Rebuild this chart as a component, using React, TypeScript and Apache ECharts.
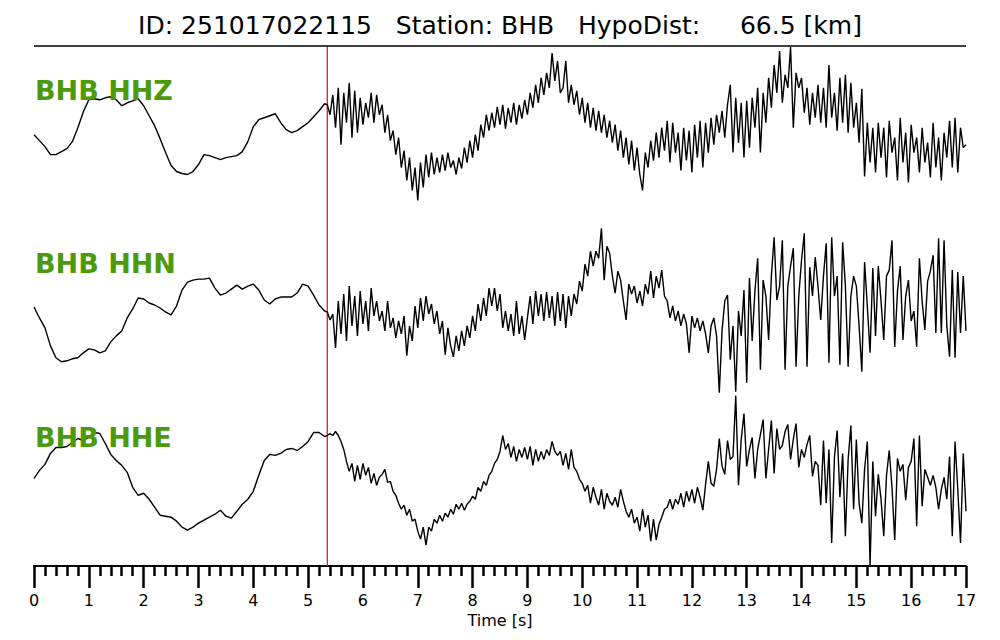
import React, { useEffect, useRef } from "react";
import * as echarts from "echarts";

const TITLE = "ID: 251017022115   Station: BHB   HypoDist:     66.5 [km]";
const CHANNELS = ["BHB HHZ", "BHB HHN", "BHB HHE"];
const X_AXIS_NAME = "Time [s]";
const X_MIN = 0;
const X_MAX = 17;
const P_PICK = 5.35;

// sampling of the hand-read traces
const PRE_DT = 0.1; // pre-event part, t = 0 .. 5.3
const POST_T0 = 5.35; // post-event part start
const POST_DT = 0.05; // post-event part, t = 5.35 .. 17.0

// normalised amplitudes (band half-height = 87)
const HHZ_PRE = [-2, -8, -14, -22, -22, -19, -16, -9, 5, 21, 33, 34, 33, 35, 36, 33, 27, 30, 32, 34, 27, 17, 7, -6, -20, -33, -39, -41, -42, -39, -32, -22, -23, -25, -27, -25, -24, -23, -19, -9, 6, 13, 15, 17, 19, 10, 3, 0, 2, 6, 10, 16, 22, 29];
const HHZ_POST = [
  28, 18, 38, 5, 45, -12, 40, 10, 50, -5, 42, 0, 35, 8, 30, 15, 40, 10, 38, 18,
  28, 0, 18, -8, 2, -22, -5, -35, -18, -48, -25, -58, -35, -68, -30, -55, -22, -45, -20, -42,
  -25, -40, -22, -38, -20, -35, -28, -42, -25, -36, -15, -30, -8, -25, -2, -18, 8, -5, 18, 2,
  20, 5, 26, 8, 28, 4, 25, 10, 30, 8, 28, 14, 33, 18, 40, 25, 48, 30, 55, 38,
  60, 45, 80, 52, 72, 40, 45, 72, 30, 48, 28, 42, 18, 35, 10, 30, 5, 25, 2, 22,
  0, 18, -5, 12, -10, 8, -18, 2, -25, -5, -32, -8, -38, -15, -42, -58, -20, -35, -8, -28,
  0, -25, 5, -18, 12, -30, 10, -20, 0, -38, 5, -28, 2, -40, 8, -25, 12, -35, 10, -20,
  15, -12, 18, 0, 22, -5, 28, 48, -20, 35, -10, 30, -25, 32, -15, 35, 5, 45, -20, 40,
  10, 55, 25, 68, 40, 82, 30, 58, 45, 86, 5, 60, 45, 55, 20, 45, 8, 40, 15, 48,
  10, 45, 5, 68, 15, 40, 2, 55, 10, 58, 0, 50, 5, 30, -10, 44, -44, 10, -30, 5,
  -40, 10, -25, 5, -45, 12, -20, -5, -48, 15, -30, 0, -50, 8, -20, -5, -40, 5, -30, -10,
  -45, 10, -35, -5, -48, 0, -25, 12, -35, 15, -40, 5, -15, -12,
];

const HHN_PRE = [-1, -12, -22, -40, -52, -56, -55, -53, -52, -47, -43, -44, -47, -45, -36, -30, -25, -12, -3, 8, 7, 3, 1, -2, -6, -9, 0, 16, 24, 26, 27, 27, 28, 18, 11, 13, 17, 21, 17, 20, 22, 16, 6, 2, 7, 9, 9, 9, 13, 22, 20, 11, 1, -5];
const HHN_POST = [
  -6, -14, -8, -42, 5, -28, 12, -35, 20, -20, 10, -30, 15, -18, 5, -25, 18, -10, 5, -15,
  -5, -25, 5, -22, -12, -32, -15, -28, -10, -50, -20, -35, 0, -22, 8, -15, 10, -8, 2, -18,
  -5, -28, -15, -49, -22, -40, -51, -30, -45, -25, -40, -20, -32, -10, -25, 2, -15, 8, -10, 18,
  0, 18, -5, 12, -22, -5, -25, -8, -30, 5, -28, -10, -34, -12, 10, -18, 15, -10, 12, -15,
  14, -12, 10, -20, 14, -15, 12, -22, 10, -10, 12, 2, 25, 15, 42, 30, 55, 40, 55, 48,
  78, 26, 60, 53, 30, 13, 35, 26, 5, -14, 22, 12, 20, 3, 15, 0, 22, 12, 35, 8,
  30, 18, 36, 10, 5, -12, 0, -15, -5, -20, -8, -18, -47, -10, -22, -12, -25, -15, -28, -47,
  -20, -12, -30, -87, -25, 5, 11, -54, -20, -86, -5, -30, 16, -77, 28, -35, 15, 48, -64, 26,
  10, -34, 30, 69, 6, 20, 66, -64, 20, 40, 58, -61, 10, 46, 73, -61, 39, 10, 49, 20,
  -14, 30, 63, -57, 69, 10, 30, -59, 64, 20, -61, 10, 30, 20, -20, -66, 44, 0, -47, 38,
  -30, 40, 5, -34, 30, 36, 66, -41, 15, 40, -34, 10, 26, -15, -5, -41, 48, 5, -24, 25,
  35, 51, -27, 68, -27, 66, -20, -51, 36, -52, 34, -27, 30, -25,
];

const HHE_PRE = [1, 9, 15, 26, 32, 32, 33, 37, 41, 39, 42, 47, 46, 36, 25, 19, 14, 7, -8, -16, -14, -20, -28, -36, -37, -38, -42, -48, -51, -48, -44, -41, -38, -35, -31, -37, -39, -32, -25, -20, -12, 4, 19, 25, 24, 26, 30, 31, 29, 33, 38, 47, 47, 43];
const HHE_POST = [
  44, 46, 44, 48, 44, 38, 30, 18, 8, 16, -2, 14, 0, 16, 4, 12, -4, 6, -6, 2,
  5, 10, -3, -2, -12, -16, -24, -30, -26, -36, -30, -42, -40, -52, -60, -48, -66, -48, -52, -40,
  -44, -36, -42, -34, -38, -30, -35, -25, -30, -24, -31, -25, -22, -17, -20, -8, -12, -2, -6, 4,
  8, 16, 20, 28, 44, 30, 36, 22, 33, 18, 30, 22, 32, 20, 33, 14, 30, 18, 28, 20,
  30, 24, 38, 28, 24, 28, 14, 26, 10, 30, 12, 8, 0, -4, -12, -6, -24, -8, -18, -26,
  -10, -30, -14, -22, -26, -18, -28, -10, -22, -32, -38, -30, -44, -38, -52, -30, -48, -36, -62, -40,
  -61, -45, -38, -30, -28, -20, -30, -20, -25, -14, -28, -12, -22, -10, -24, -8, -18, -31, -5, 18,
  -4, -7, 10, 41, 13, 5, 39, 20, 23, 84, -6, 40, 66, 13, 30, 42, 1, 30, 45, 60,
  1, 30, 59, 6, 51, 30, 34, 48, 55, 20, 40, 56, 12, 30, 22, 35, 44, 3, 18, 14,
  -26, 39, -24, 30, -64, 22, 49, -18, 26, -57, 20, 54, -30, 40, -24, -44, 10, 38, -87, 18,
  -37, 5, -20, -57, 4, 29, -8, -61, 21, 8, 15, -21, 12, 18, 41, -47, 44, -27, 10, 2,
  -6, 4, -8, -30, -10, 2, -20, 23, -57, 38, -10, -64, 26, -32,
];

const AMP_LIMIT = 87;

function toPairs(pre: number[], post: number[]): number[][] {
  const a = pre.map((v, i) => [+(i * PRE_DT).toFixed(3), v]);
  const b = post.map((v, i) => [+(POST_T0 + i * POST_DT).toFixed(3), v]);
  return a.concat(b);
}

const TRACES = [toPairs(HHZ_PRE, HHZ_POST), toPairs(HHN_PRE, HHN_POST), toPairs(HHE_PRE, HHE_POST)];

const FONT = "DejaVu Sans";

export default function App() {
  const ref = useRef<HTMLDivElement>(null);
  useEffect(() => {
    if (!ref.current) return;
    const chart = echarts.init(ref.current, undefined, { renderer: "svg" });
    const LEFT = 34;
    const RIGHT = 34;
    const TOP = 46;
    const H = 520;
    const BAND = H / 3;

    const grids: any[] = [];
    const xAxes: any[] = [];
    const yAxes: any[] = [];
    const series: any[] = [];
    const graphics: any[] = [];

    TRACES.forEach((data, i) => {
      grids.push({ left: LEFT, right: RIGHT, top: TOP + i * BAND, height: BAND });
      xAxes.push({ type: "value", gridIndex: i, min: X_MIN, max: X_MAX, show: false });
      yAxes.push({ type: "value", gridIndex: i, min: -AMP_LIMIT, max: AMP_LIMIT, show: false });
      series.push({
        type: "line",
        xAxisIndex: i,
        yAxisIndex: i,
        data,
        showSymbol: false,
        symbol: "none",
        silent: true,
        clip: false,
        lineStyle: { color: "#000", width: 1.4 },
        z: 3,
      });
      graphics.push({
        type: "text",
        left: 35,
        top: TOP + i * BAND + 44 - 13,
        z: 100,
        style: {
          text: CHANNELS[i],
          fill: "#4c9a0c",
          fontSize: 27,
          fontWeight: "bold",
          fontFamily: FONT,
        },
      });
    });

    // full-height grid carrying the time axis and the P pick
    grids.push({ left: LEFT, right: RIGHT, top: TOP, height: H });
    xAxes.push({
      type: "value",
      gridIndex: 3,
      min: X_MIN,
      max: X_MAX,
      interval: 1,
      name: X_AXIS_NAME,
      nameLocation: "middle",
      nameGap: 41,
      nameTextStyle: { fontSize: 16, color: "#000", fontFamily: FONT },
      axisLine: { show: true, onZero: false, lineStyle: { color: "#000", width: 2 } },
      axisTick: { show: true, length: 22, lineStyle: { color: "#000", width: 2.5 } },
      minorTick: { show: true, splitNumber: 5, length: 10, lineStyle: { color: "#000", width: 2.5 } },
      axisLabel: { margin: 26, fontSize: 16, color: "#000", fontFamily: FONT, showMinLabel: true, showMaxLabel: true },
      splitLine: { show: false },
      minorSplitLine: { show: false },
    });
    yAxes.push({ type: "value", gridIndex: 3, min: 0, max: 1, show: false });
    series.push({
      type: "line",
      xAxisIndex: 3,
      yAxisIndex: 3,
      data: [
        [P_PICK, 0],
        [P_PICK, 1],
      ],
      showSymbol: false,
      symbol: "none",
      silent: true,
      lineStyle: { color: "#e41f1f", width: 1.3 },
      z: 2,
    });

    graphics.push({
      type: "line",
      shape: { x1: LEFT, y1: TOP, x2: 1000 - RIGHT, y2: TOP },
      style: { stroke: "#000", lineWidth: 1.5 },
      z: 50,
    });
    graphics.push({
      type: "text",
      left: "center",
      top: 13,
      style: {
        text: TITLE,
        fill: "#000",
        fontSize: 25,
        fontFamily: FONT,
      },
    });

    chart.setOption({
      animation: false,
      backgroundColor: "#fff",
      grid: grids,
      xAxis: xAxes,
      yAxis: yAxes,
      series,
      graphic: graphics,
    });
    return () => chart.dispose();
  }, []);
  return <div ref={ref} style={{ position: "absolute", left: 0, top: 0, width: 1000, height: 640 }} />;
}
